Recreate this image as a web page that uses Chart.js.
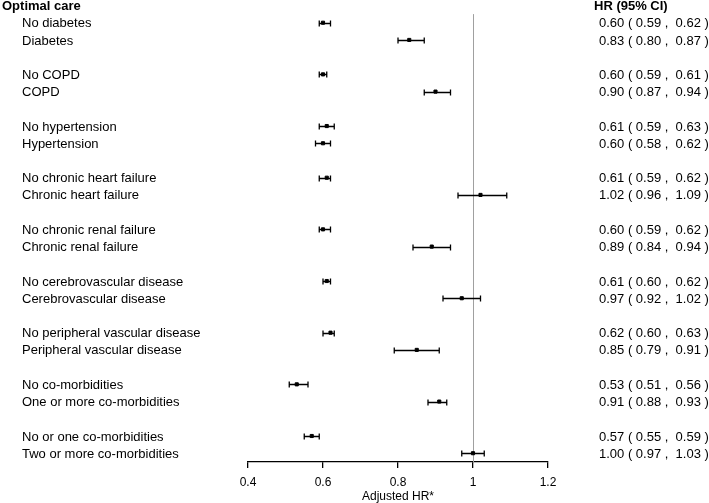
<!DOCTYPE html>
<html lang="en">
  <head>
    <meta charset="UTF-8" />
    <script src="https://cdn.jsdelivr.net/npm/chart.js@4"></script>
    <style>
      body { margin: 0; background: #fff; }
      #chart-container { width: 709px; height: 503px; }
    </style>
    <title>Forest plot</title>
  </head>
  <body>
    <div id="chart-container">
      <canvas id="chart" width="709" height="503"></canvas>
    </div>
    <script>
      const labels = [
        "No diabetes", "Diabetes",
        "No COPD", "COPD",
        "No hypertension", "Hypertension",
        "No chronic heart failure", "Chronic heart failure",
        "No chronic renal failure", "Chronic renal failure",
        "No cerebrovascular disease", "Cerebrovascular disease",
        "No peripheral vascular disease", "Peripheral vascular disease",
        "No co-morbidities", "One or more co-morbidities",
        "No or one co-morbidities", "Two or more co-morbidities",
      ];
      // row position of each label (blank row between pairs)
      const rows = [1, 2, 4, 5, 7, 8, 10, 11, 13, 14, 16, 17, 19, 20, 22, 23, 25, 26];
      const hr = [0.60, 0.83, 0.60, 0.90, 0.61, 0.60, 0.61, 1.02, 0.60, 0.89, 0.61, 0.97, 0.62, 0.85, 0.53, 0.91, 0.57, 1.00];
      const lower = [0.59, 0.80, 0.59, 0.87, 0.59, 0.58, 0.59, 0.96, 0.59, 0.84, 0.60, 0.92, 0.60, 0.79, 0.51, 0.88, 0.55, 0.97];
      const upper = [0.62, 0.87, 0.61, 0.94, 0.63, 0.62, 0.62, 1.09, 0.62, 0.94, 0.62, 1.02, 0.63, 0.91, 0.56, 0.93, 0.59, 1.03];
      const xTicks = [0.4, 0.6, 0.8, 1, 1.2];

      const FONT = "Liberation Sans, Arial, sans-serif";
      const fmt = (v) => v.toFixed(2);

      const forestPlugin = {
        id: "forest",
        beforeDatasetsDraw: (chart) => {
          const ctx = chart.ctx;
          const x = chart.scales.x;
          const y = chart.scales.y;
          // reference line at HR = 1
          ctx.save();
          ctx.strokeStyle = "#a0a0a0";
          ctx.lineWidth = 1;
          ctx.beginPath();
          ctx.moveTo(Math.round(x.getPixelForValue(1)) + 0.5, y.getPixelForValue(0.5));
          ctx.lineTo(Math.round(x.getPixelForValue(1)) + 0.5, chart.chartArea.bottom);
          ctx.stroke();
          // confidence intervals
          ctx.strokeStyle = "#000";
          ctx.lineWidth = 1.3;
          rows.forEach((r, i) => {
            const py = Math.round(y.getPixelForValue(r)) + 0.5;
            const x0 = x.getPixelForValue(lower[i]);
            const x1 = x.getPixelForValue(upper[i]);
            ctx.beginPath();
            ctx.moveTo(x0, py);
            ctx.lineTo(x1, py);
            ctx.moveTo(x0, py - 3);
            ctx.lineTo(x0, py + 3);
            ctx.moveTo(x1, py - 3);
            ctx.lineTo(x1, py + 3);
            ctx.stroke();
          });
          ctx.restore();
        },
        afterDraw: (chart) => {
          const ctx = chart.ctx;
          const y = chart.scales.y;
          ctx.save();
          ctx.fillStyle = "#000";
          ctx.textBaseline = "middle";
          ctx.textAlign = "left";
          ctx.font = "bold 13px " + FONT;
          ctx.fillText("Optimal care", 2, y.getPixelForValue(0) + 1);
          ctx.fillText("HR (95% CI)", 594, y.getPixelForValue(0) + 1);
          ctx.font = "13px " + FONT;
          rows.forEach((r, i) => {
            const py = y.getPixelForValue(r) + 1;
            ctx.fillText(labels[i], 22, py);
            ctx.fillText(fmt(hr[i]) + " ( " + fmt(lower[i]) + " ,  " + fmt(upper[i]) + " )", 599, py);
          });
          ctx.restore();
        },
      };

      const config = {
        type: "scatter",
        data: {
          datasets: [
            {
              data: rows.map((r, i) => ({ x: hr[i], y: r })),
              backgroundColor: "#000",
              borderColor: "#000",
              pointStyle: "rect",
              pointRadius: 2.2,
              pointHoverRadius: 2.2,
            },
          ],
        },
        options: {
          responsive: false,
          animation: false,
          layout: { padding: { left: 248, right: 161, top: 5.5, bottom: 0 } },
          plugins: { legend: { display: false }, tooltip: { enabled: false } },
          scales: {
            x: {
              type: "linear",
              min: 0.4,
              max: 1.2,
              afterBuildTicks: (axis) => {
                axis.ticks = xTicks.map((v) => ({ value: v }));
              },
              afterFit: (axis) => {
                axis.height = 41;
              },
              border: { color: "#000", width: 1.3 },
              grid: { display: true, drawOnChartArea: false, drawTicks: true, tickLength: 6, color: "#000", lineWidth: 1.3 },
              ticks: { color: "#000", font: { family: FONT, size: 12 }, padding: 7, maxRotation: 0, callback: (v) => String(v) },
              title: { display: true, text: "Adjusted HR*", color: "#000", font: { family: FONT, size: 12, lineHeight: 1 }, padding: { top: 0, bottom: 0 } },
            },
            y: {
              type: "linear",
              display: false,
              reverse: true,
              min: 0,
              max: 26.51,
            },
          },
        },
        plugins: [forestPlugin],
      };

      const chart = new Chart(document.getElementById("chart"), config);
    </script>
  </body>
</html>
